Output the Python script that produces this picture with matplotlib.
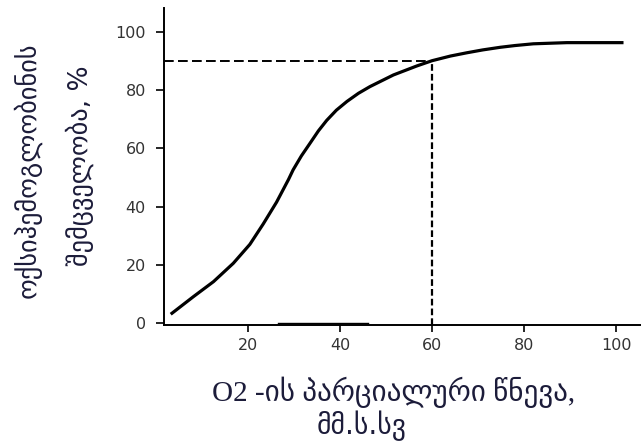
import numpy as np
import matplotlib
matplotlib.use("Agg")
import matplotlib.pyplot as plt

# oxygen dissociation curve
po2 = [3.2, 8.1, 12.5, 16.8, 20.4, 23.3, 26.2, 28.8, 29.8, 31.6, 33.5, 35.3, 37.1,
       39.2, 41.5, 44.0, 46.5, 51.6, 56.7, 60.0, 64.0, 67.5, 71.0, 74.8, 78.0,
       82.0, 89.3, 101.6]
sat = [3.0, 9.0, 14.2, 20.5, 27.0, 34.0, 41.5, 49.3, 52.6, 57.4, 61.8, 66.0, 69.6,
       73.1, 76.1, 78.9, 81.2, 85.2, 88.3, 90.1, 91.7, 92.8, 93.8, 94.7, 95.3,
       95.9, 96.3, 96.3]

marker_x = 60
marker_y = 90
blip = [26.5, 46]  # thick bit on the x axis in the original scan

xticks = [20, 40, 60, 80, 100]
yticks = [0, 20, 40, 60, 80, 100]

ylab1 = "ოქსიჰემოგლობინის"
ylab2 = "შემცველობა, %"
xlab1 = "O2 -ის პარციალური წნევა,"
xlab2 = "მმ.ს.სვ"

fig = plt.figure(figsize=(6.41, 4.46), dpi=100)
ax = fig.add_axes([164 / 641, 1 - 325 / 446, 1 - 164 / 641, (325 - 8) / 446])
ax.set_xlim(1.74, 105.4)
ax.set_ylim(-0.7, 108.2)

ax.plot(po2, sat, color="black", lw=2.3, solid_capstyle="butt", solid_joinstyle="round")

xmin = ax.get_xlim()[0]
ymin = ax.get_ylim()[0]
h, = ax.plot([xmin, marker_x], [marker_y, marker_y], color="black", lw=1.4)
h.set_dashes([5.0, 2.2])
v, = ax.plot([marker_x, marker_x], [ymin, marker_y], color="black", lw=1.6)
v.set_dashes([3.0, 1.4])
ax.plot(blip, [0.0, 0.0], color="black", lw=1.0)

for s in ["top", "right"]:
    ax.spines[s].set_visible(False)
for s in ["left", "bottom"]:
    ax.spines[s].set_linewidth(1.4)

ax.set_xticks(xticks)
ax.set_yticks(yticks)
ax.tick_params(axis="y", length=6, width=1.2, pad=7, labelsize=11.5, labelcolor="#333333")
ax.tick_params(axis="x", length=5, width=1.2, pad=4, labelsize=11.5, labelcolor="#333333")

tc = "#1c1c3a"
fig.text(27 / 641, 1 - 170 / 446, ylab1, rotation=90, ha="center", va="center",
         fontsize=19, color=tc, family=["DejaVu Sans"])
fig.text(80 / 641, 1 - 166 / 446, ylab2, rotation=90, ha="center", va="center",
         fontsize=19, color=tc, family=["DejaVu Sans"])
fig.text(394 / 641, 1 - 392 / 446, xlab1, ha="center", va="center",
         fontsize=21, color=tc, family=["Liberation Serif", "DejaVu Sans"])
fig.text(362 / 641, 1 - 426 / 446, xlab2, ha="center", va="center",
         fontsize=20, color=tc, family=["DejaVu Sans"])

fig.savefig("out.png", dpi=100)
